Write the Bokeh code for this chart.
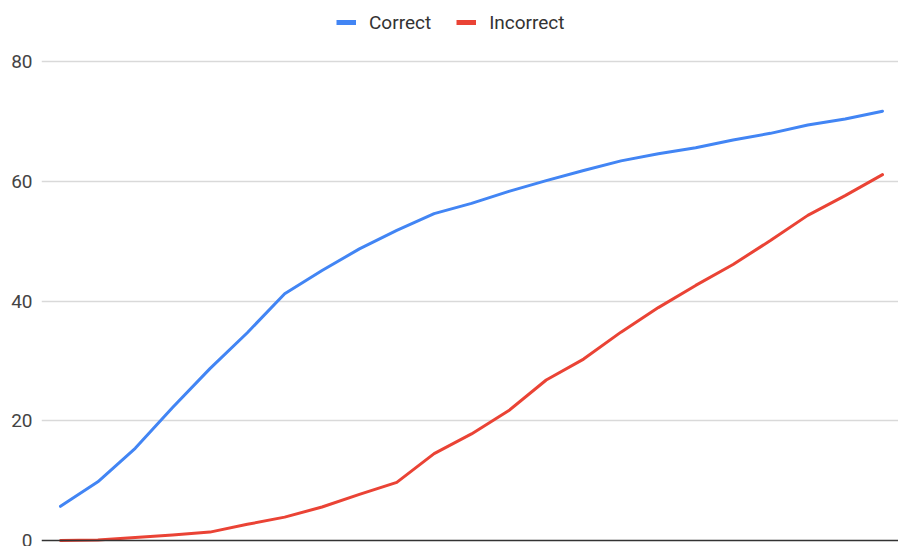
from bokeh.plotting import figure
from bokeh.models import Legend, LegendItem, Span, FixedTicker, Range1d
from bokeh.embed import file_html
from bokeh.resources import INLINE

# Cumulative counts per step
steps = list(range(23))
correct = [5.7, 9.8, 15.4, 22.2, 28.7, 34.7, 41.2, 45.1, 48.7, 51.8, 54.6, 56.3,
           58.3, 60.1, 61.8, 63.4, 64.6, 65.6, 66.9, 68.0, 69.4, 70.4, 71.7]
incorrect = [0.0, 0.1, 0.5, 0.9, 1.4, 2.7, 3.9, 5.6, 7.7, 9.7, 14.5, 17.8,
             21.7, 26.8, 30.3, 34.8, 38.9, 42.6, 46.1, 50.1, 54.3, 57.6, 61.1]
y_ticks = [0, 20, 40, 60, 80]
series_names = ["Correct", "Incorrect"]

BLUE = "#4285F4"
RED = "#EA4335"
FONT = "Roboto"

W, H = 898, 546
frame_h = 542
px_per_unit = 479 / 80.0

p = figure(width=W, height=H, output_backend="svg", toolbar_location=None,
           min_border_left=41, min_border_right=0, min_border_top=0, min_border_bottom=4,
           x_range=Range1d(-0.5085, 22.428),
           y_range=Range1d(-2 / px_per_unit, 80 + 61 / px_per_unit))
p.outline_line_color = None
p.background_fill_color = "white"
p.border_fill_color = "white"

p.xaxis.visible = False
p.xgrid.grid_line_color = None

p.yaxis.ticker = FixedTicker(ticks=y_ticks)
p.yaxis.axis_line_color = None
p.yaxis.major_tick_line_color = None
p.yaxis.minor_tick_line_color = None
p.yaxis.major_tick_out = 0
p.yaxis.major_tick_in = 0
p.yaxis.minor_tick_out = 0
p.yaxis.major_label_standoff = 9
p.yaxis.major_label_text_font = FONT
p.yaxis.major_label_text_font_size = "19px"
p.yaxis.major_label_text_color = "#444444"

p.ygrid.ticker = FixedTicker(ticks=y_ticks[1:])
p.ygrid.grid_line_color = "#d9d9d9"
p.ygrid.grid_line_width = 1.5

# baseline at zero
p.add_layout(Span(location=0, dimension="width", line_color="#333333", line_width=1.5))

p.line(steps, correct, line_color=BLUE, line_width=3, line_join="round", line_cap="round")
p.line(steps, incorrect, line_color=RED, line_width=3, line_join="round", line_cap="round")

# legend swatches (kept outside the visible ranges)
sw_c = p.line([-50, -49], [-50, -50], line_color=BLUE, line_width=5)
sw_i = p.line([-50, -49], [-50, -50], line_color=RED, line_width=5)

legend = Legend(items=[LegendItem(label=series_names[0], renderers=[sw_c]),
                       LegendItem(label=series_names[1], renderers=[sw_i])],
                orientation="horizontal", location=(295, frame_h - 33.5),
                glyph_width=20, glyph_height=20, label_height=20,
                label_standoff=13, spacing=25, padding=0, margin=0,
                border_line_color=None, background_fill_alpha=0,
                label_text_font=FONT, label_text_font_size="19px",
                label_text_color="#333333")
p.add_layout(legend)

open("out.html", "w").write(file_html(p, INLINE))
